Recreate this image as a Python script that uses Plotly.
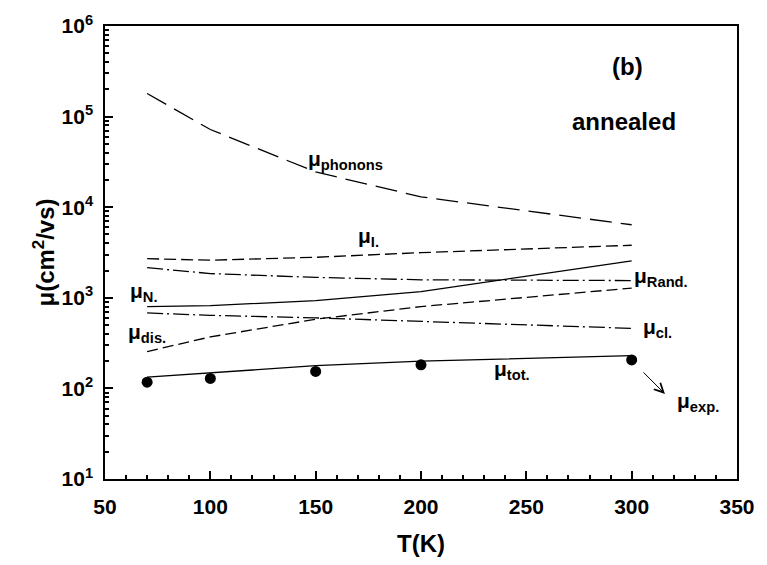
import plotly.graph_objects as go
import math

# Temperature points (K)
T = [70, 100, 150, 200, 300]

# Calculated mobility components (cm^2/Vs)
mu_phonons = [1.8e5, 7.2e4, 2.45e4, 1.3e4, 6.4e3]
mu_I = [2700, 2600, 2800, 3150, 3800]
mu_rand = [2150, 1850, 1680, 1580, 1550]
mu_N = [800, 820, 930, 1170, 2550]
mu_cl = [680, 640, 600, 550, 460]
mu_dis = [255, 370, 580, 800, 1280]
mu_tot = [133, 148, 178, 200, 230]

# Measured mobility
mu_exp = [117, 129, 154, 182, 206]

x_ticks = [50, 100, 150, 200, 250, 300, 350]
y_tickvals = [1e1, 1e2, 1e3, 1e4, 1e5, 1e6]
y_ticktext = ["10<sup>1</sup>", "10<sup>2</sup>", "10<sup>3</sup>",
              "10<sup>4</sup>", "10<sup>5</sup>", "10<sup>6</sup>"]

FONT = "Liberation Sans, Arial, sans-serif"

fig = go.Figure()

curves = [
    (mu_phonons, "22px,9px"),
    (mu_I, "12px,5px"),
    (mu_rand, "16px,4px,2px,4px"),
    (mu_N, "solid"),
    (mu_cl, "16px,4px,2px,4px"),
    (mu_dis, "11px,5px"),
    (mu_tot, "solid"),
]
for vals, dash in curves:
    fig.add_trace(go.Scatter(x=T, y=vals, mode="lines",
                             line=dict(color="black", width=1.3, dash=dash),
                             showlegend=False, hoverinfo="skip"))

fig.add_trace(go.Scatter(x=T, y=mu_exp, mode="markers",
                         marker=dict(color="black", size=11),
                         showlegend=False))

def lab(text, x, y, size=21, xanchor="left"):
    fig.add_annotation(x=x, y=math.log10(y), text=text, showarrow=False,
                       xanchor=xanchor, yanchor="middle",
                       font=dict(family=FONT, size=size, color="black", weight="bold"))

lab("μ<sub>phonons</sub>", 145.5, 3.3e4)
lab("μ<sub>I.</sub>", 169.3, 4.7e3)
lab("μ<sub>N.</sub>", 60.8, 1.15e3)
lab("μ<sub>dis.</sub>", 59.8, 405)
lab("μ<sub>Rand.</sub>", 300.3, 1.7e3)
lab("μ<sub>cl.</sub>", 304.6, 460)
lab("μ<sub>tot.</sub>", 233.9, 160)
lab("μ<sub>exp.</sub>", 320.5, 70)
lab("(b)", 298.0, 3.6e5, size=24, xanchor="center")
lab("annealed", 296.5, 8.8e4, size=24, xanchor="center")

# Arrow pointing from the last measured point to its label
fig.add_annotation(x=315.8, y=math.log10(87), ax=-23, ay=-23,
                   axref="pixel", ayref="pixel", text="", showarrow=True,
                   arrowhead=5, arrowsize=1.8, arrowwidth=1, arrowcolor="black")

fig.update_layout(
    width=767, height=565,
    margin=dict(l=105, r=21, t=17, b=85),
    paper_bgcolor="white", plot_bgcolor="white",
    font=dict(family=FONT, color="black", weight="bold"),
    xaxis=dict(
        range=[50, 350], tickvals=x_ticks, ticks="inside", ticklen=8,
        tickwidth=1.5, tickcolor="black", showgrid=False, zeroline=False,
        showline=True, linecolor="black", linewidth=1.5, mirror=True,
        tickfont=dict(size=21, family=FONT, weight="bold"),
        ticklabelstandoff=8,
        minor=dict(dtick=10, ticks="inside", ticklen=4, tickwidth=1.5,
                   tickcolor="black", showgrid=False),
        title=dict(text="T(K)", font=dict(size=24, family=FONT, weight="bold"),
                   standoff=18),
    ),
    yaxis=dict(
        type="log", range=[1, 6], tickvals=y_tickvals, ticktext=y_ticktext,
        ticks="inside", ticklen=8, tickwidth=1.5, tickcolor="black",
        showgrid=False, zeroline=False, showline=True, linecolor="black",
        linewidth=1.5, mirror=True,
        tickfont=dict(size=21, family=FONT, weight="bold"),
        ticklabelstandoff=6,
        minor=dict(dtick="D1", ticks="inside", ticklen=4, tickwidth=1.5,
                   tickcolor="black", showgrid=False),
        title=dict(text="μ(cm<sup>2</sup>/vs)",
                   font=dict(size=24, family=FONT, weight="bold"), standoff=0),
    ),
)

fig.write_html("out.html")
